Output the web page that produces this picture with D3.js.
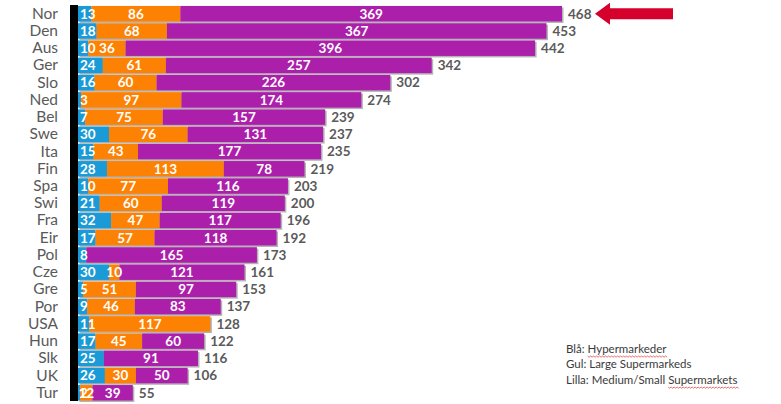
<!DOCTYPE html>
<html><head><meta charset="utf-8">
<script src="https://cdn.jsdelivr.net/npm/d3@7"></script>
<style>body{margin:0;background:#fff}svg{display:block}</style>
</head><body>
<script>
const categories = ["Nor","Den","Aus","Ger","Slo","Ned","Bel","Swe","Ita","Fin","Spa","Swi","Fra","Eir","Pol","Cze","Gre","Por","USA","Hun","Slk","UK","Tur"];
const hyper  = [13,18,10,24,16,3,7,30,15,28,10,21,32,17,8,30,5,9,11,17,25,26,2];
const large  = [86,68,36,61,60,97,75,76,43,113,77,60,47,57,0,10,51,46,117,45,0,30,12];
const medium = [369,367,396,257,226,174,157,131,177,78,116,119,117,118,165,121,97,83,0,60,91,50,39];
const totals = [468,453,442,342,302,274,239,237,235,219,203,200,196,192,173,161,153,137,128,122,116,106,55];
const seriesNames = ["Hypermarkeder","Large Supermarkeds","Medium/Small Supermarkets"];
const legendLines = [["Blå: ","Hypermarkeder"],["Gul: Large Supermarkeds",""],["Lilla: Medium/Small ","Supermarkets"]];
const colors = ["#1a9ad6","#fd8204","#ac1fab"];

const W = 781, H = 404;
const svg = d3.select("body").append("svg").attr("width", W).attr("height", H);

const x = d3.scaleLinear().domain([0, 468]).range([78, 562]);
const y = d3.scaleBand().domain(categories).range([5.1, 401.4]).paddingInner(0.1).paddingOuter(0.05);

const rows = categories.map((c, i) => ({c, vals: [hyper[i], large[i], medium[i]], total: totals[i]}));

// shadows
svg.append("g").selectAll("rect").data(rows).join("rect")
  .attr("x", x(0) + 1.5)
  .attr("y", d => y(d.c) + 1.5)
  .attr("width", d => x(d3.sum(d.vals)) - x(0))
  .attr("height", y.bandwidth())
  .attr("fill", "#b4b4b4");

// segments
const seg = [];
rows.forEach(r => {
  let acc = 0;
  r.vals.forEach((v, k) => {
    seg.push({c: r.c, k, v, x0: acc, x1: acc + v});
    acc += v;
  });
});
svg.append("g").selectAll("rect").data(seg.filter(s => s.v > 0)).join("rect")
  .attr("x", d => x(d.x0))
  .attr("y", d => y(d.c))
  .attr("width", d => x(d.x1) - x(d.x0))
  .attr("height", y.bandwidth())
  .attr("fill", d => colors[d.k]);

// segment labels
svg.append("g").selectAll("text").data(seg.filter(s => s.v > 0)).join("text")
  .attr("x", d => d.k === 0 ? x(d.x0) + 2 : (x(d.x0) + x(d.x1)) / 2)
  .attr("y", d => y(d.c) + y.bandwidth() / 2)
  .attr("dy", "0.36em")
  .attr("text-anchor", d => d.k === 0 ? "start" : "middle")
  .attr("font-family", "Lato, sans-serif")
  .attr("font-weight", "bold")
  .attr("font-size", 13.5)
  .attr("fill", "#fff")
  .text(d => d.v);

// totals
svg.append("g").selectAll("text").data(rows).join("text")
  .attr("x", d => x(d3.sum(d.vals)) + 6)
  .attr("y", d => y(d.c) + y.bandwidth() / 2)
  .attr("dy", "0.36em")
  .attr("font-family", "Lato, sans-serif")
  .attr("font-weight", "bold")
  .attr("font-size", 13.5)
  .attr("fill", "#5a5a5a")
  .text(d => d.total);

// axis with category labels
const yAxis = d3.axisLeft(y).tickSize(0).tickPadding(12);
const ga = svg.append("g").attr("transform", `translate(70,0)`).call(yAxis);
ga.select(".domain").remove();
ga.selectAll("text").attr("font-family", "Lato, sans-serif").attr("font-size", 15.5).attr("fill", "#595959");
svg.append("rect").attr("x", 70).attr("y", 5).attr("width", 8).attr("height", 396).attr("fill", "#000");

// arrow
const ay = y("Nor") + y.bandwidth() / 2;
svg.append("path")
  .attr("d", `M595,${ay} L610,${ay-11} L610,${ay-5.5} L673,${ay-5.5} L673,${ay+5.5} L610,${ay+5.5} L610,${ay+11} Z`)
  .attr("fill", "#d6002c");

// legend
const lg = svg.append("g").attr("font-family", "Lato, sans-serif").attr("font-size", 11.5).attr("fill", "#3a3a3a");
const lys = [353, 368, 384];
legendLines.forEach((l, i) => {
  const t = lg.append("text").attr("x", 566).attr("y", lys[i]);
  t.append("tspan").text(l[0]);
  if (l[1]) t.append("tspan").text(l[1]);
});
// wavy underlines
lg.selectAll("text").each(function(d, i) {
  const l = legendLines[i];
  if (!l[1]) return;
  const spans = d3.select(this).selectAll("tspan").nodes();
  const x0 = 566 + spans[0].getComputedTextLength();
  const x1 = x0 + spans[1].getComputedTextLength();
  const yy = lys[i] + 3;
  let p = `M${x0},${yy}`;
  for (let xx = x0, k = 0; xx < x1; xx += 1.5, k++) p += ` L${xx + 1.5},${yy + (k % 2 ? 0 : 1.2)}`;
  lg.append("path").attr("d", p).attr("fill", "none").attr("stroke", "#e03030").attr("stroke-width", 0.7);
});
</script>
</body></html>
